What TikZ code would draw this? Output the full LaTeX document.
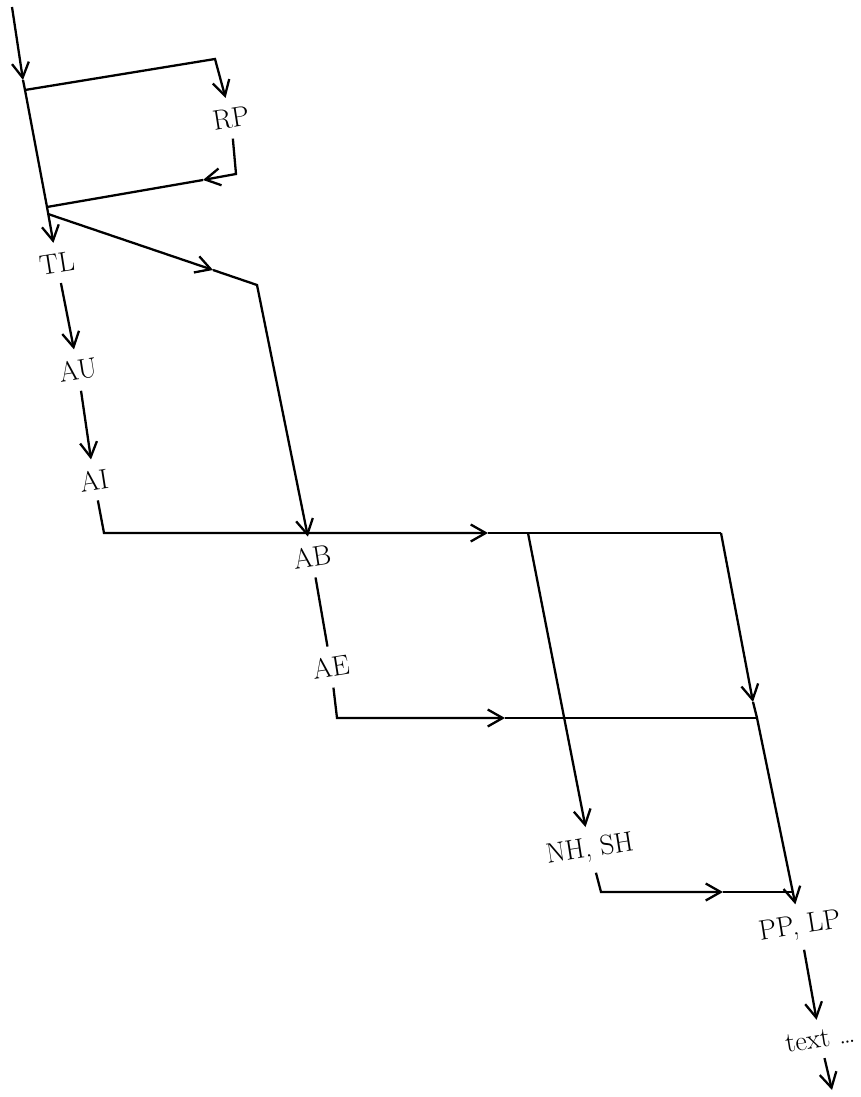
\documentclass[tikz,border=0pt]{standalone}
\usetikzlibrary{arrows.meta}
\begin{document}
\begin{tikzpicture}[x=0.02cm,y=-0.02cm,line width=1.3pt,
  lbl/.style={inner sep=5.5pt,rotate=9,font=\fontsize{16}{18}\selectfont},
  arr/.style={-{Straight Barb[length=3mm,width=3.4mm]}}]
\useasboundingbox(0,0)rectangle(860,1097);
\node[lbl](rp)at(231,118){RP};
\node[lbl](tl)at(57,263){TL};
\node[lbl](au)at(78,370){AU};
\node[lbl](ai)at(94,480){AI};
\node[lbl](ab)at(312,557){AB};
\node[lbl](ae)at(331,667){AE};
\node[lbl](nh)at(590,850){NH, SH};
\node[lbl](pp)at(800,927){PP, LP};
\node[lbl](txt)at(820,1039){text \dots};
\coordinate(in)at(12,7);\coordinate(t0)at(23,80);\coordinate(j1)at(25,90);
\coordinate(rpa)at(215,59);\coordinate(rpb)at(236,174);\coordinate(t1)at(203,180);
\coordinate(j2)at(47,207);\coordinate(j3)at(48,214);\coordinate(t3)at(213,270);\coordinate(c3)at(257,285);
\coordinate(cai)at(104,533);\coordinate(t4)at(488,533);\coordinate(br)at(528,533);\coordinate(he)at(721,533);
\coordinate(t7)at(753,702);\coordinate(r2)at(757,718);
\coordinate(cae)at(337,718);\coordinate(t5)at(505,718);
\coordinate(cnh)at(601,892);\coordinate(t9)at(723,892);\coordinate(r3)at(792,892);
\coordinate(out)at(832,1090);
\draw[arr](in)--(t0);
\draw(t0)--(j1)--(j2);
\draw[arr](j1)--(rpa)--(rp);
\draw[arr](rp)--(rpb)--(t1);
\draw(t1)--(j2);
\draw[arr](j2)--(tl);
\draw[arr](j3)--(t3);
\draw[arr](t3)--(c3)--(ab);
\draw[arr](tl)--(au);
\draw[arr](au)--(ai);
\draw[arr](ai)--(cai)--(t4);
\draw(t4)--(he);
\draw(ab)--(ae);
\draw[arr](ae)--(cae)--(t5);
\draw(t5)--(r2);
\draw[arr](br)--(nh);
\draw[arr](he)--(t7);
\draw[arr](t7)--(r2)--(pp);
\draw[arr](nh)--(cnh)--(t9);
\draw(t9)--(r3);
\draw[arr](pp)--(txt);
\draw[arr](txt)--(out);
\end{tikzpicture}
\end{document}
